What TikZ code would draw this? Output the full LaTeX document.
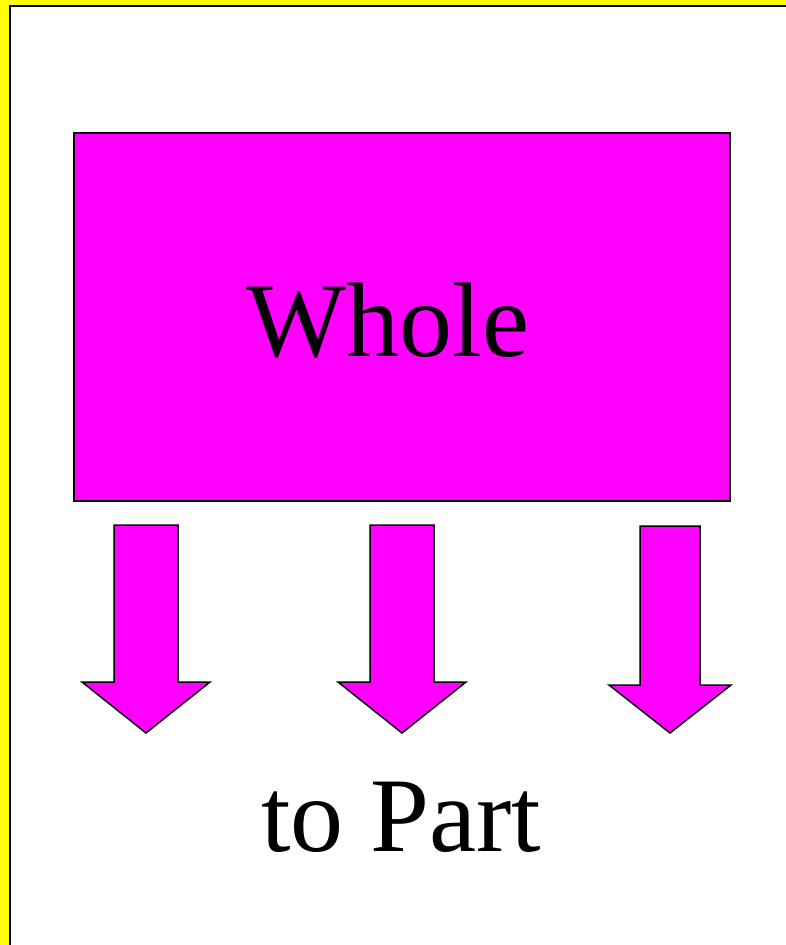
\documentclass[tikz,border=0pt]{standalone}
\usepackage{fontspec}
\setmainfont{Liberation Serif}
\usepackage{xcolor}
\definecolor{framey}{RGB}{255,255,0}
\definecolor{boxmag}{RGB}{255,0,255}
\definecolor{lineblack}{RGB}{0,0,0}
\newcommand{\bigtext}{\fontsize{106}{112}\selectfont}

\begin{document}
\begin{tikzpicture}[
  x=1pt, y=-1pt,
  box/.style={rectangle, draw=lineblack, fill=boxmag, minimum width=656pt, minimum height=368pt, line width=2pt},
  lbl/.style={font=\bigtext, inner sep=0pt},
  blockarr/.style={draw=lineblack, fill=boxmag, line width=1.5pt, line join=miter}
]
\useasboundingbox (0,0) rectangle (786,945);
\clip (0,0) rectangle (786,945);
% frame
\fill[framey] (0,0) rectangle (786,945);
\draw[fill=white, line width=2.5pt] (10,6) rectangle (820,980);

\node[box] (whole) at (402,317) {};
\node[lbl] (wholetxt) at (388,321) {Whole};
\node[lbl] (part) at (401,817) {to Part};

% arrows: centre x, shaft half width, head half width, top, neck
\foreach \cx/\w/\h/\ya/\yb in {146/32/64/525/682, 402/32/64/525/682, 670/30/61/526/685}{
  \draw[blockarr] (\cx-\w,\ya) -- (\cx+\w,\ya) -- (\cx+\w,\yb) -- (\cx+\h,\yb)
    -- (\cx,733) -- (\cx-\h,\yb) -- (\cx-\w,\yb) -- cycle;
}
\end{tikzpicture}
\end{document}
